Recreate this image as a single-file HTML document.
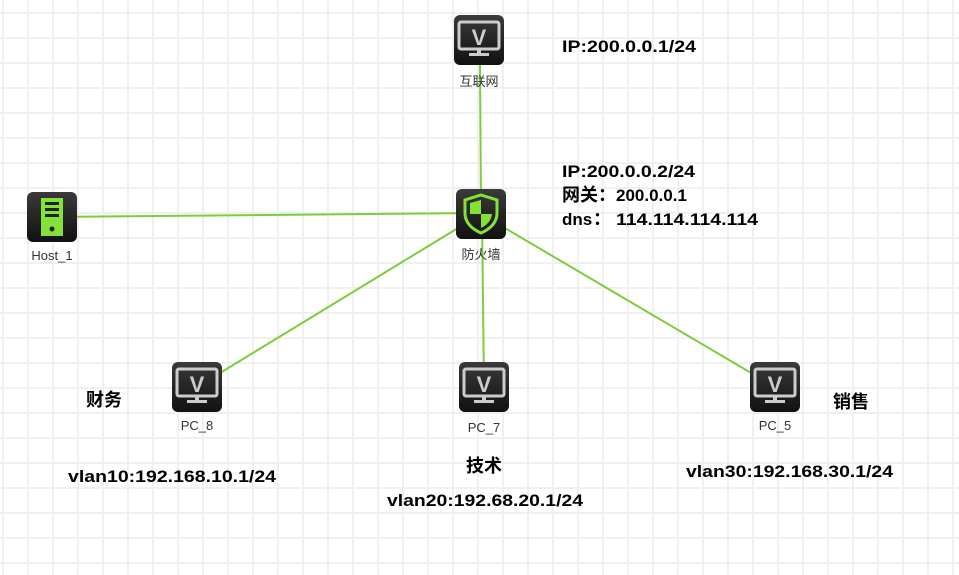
<!DOCTYPE html>
<html><head><meta charset="utf-8"><style>
html,body{margin:0;padding:0;background:#fff;}
svg{display:block;}
.t{font-family:"Liberation Sans","Noto Sans CJK SC",sans-serif;font-weight:bold;font-size:17px;fill:#000;}
.c{font-family:"Noto Sans CJK SC",sans-serif;font-weight:bold;font-size:18px;fill:#000;}
.l{font-family:"Liberation Sans","Noto Sans CJK SC",sans-serif;font-size:13px;fill:#333;text-anchor:middle;}
</style></head><body>
<svg width="959" height="575" viewBox="0 0 959 575" xmlns="http://www.w3.org/2000/svg">
<defs>
<pattern id="g" x="2" y="12" width="25" height="25" patternUnits="userSpaceOnUse">
<path d="M0 1H25M1 0V25" stroke="#f0f0f0" stroke-width="2" fill="none"/>
</pattern>
<linearGradient id="bg" x1="0" y1="0" x2="0" y2="1"><stop offset="0" stop-color="#3a3a3a"/><stop offset="1" stop-color="#111"/></linearGradient>
<g id="pc">
<rect x="0" y="0" width="50" height="50" rx="6" fill="url(#bg)"/>
<rect x="5" y="7" width="40" height="27" rx="2" fill="none" stroke="#ccc" stroke-width="3"/>
<text x="25" y="30" text-anchor="middle" font-family="Liberation Sans" font-weight="bold" font-size="22" fill="#ccc">V</text>
<rect x="23" y="34" width="4" height="4" fill="#ccc"/>
<rect x="15" y="38" width="20" height="3" fill="#ccc"/>
</g>
</defs>
<rect width="959" height="575" fill="url(#g)"/>
<g stroke="#7ccd3c" stroke-width="2" fill="none">
<line x1="480" y1="64" x2="481" y2="214"/>
<line x1="52" y1="217" x2="481" y2="213"/>
<line x1="481" y1="214" x2="197" y2="387"/>
<line x1="482" y1="214" x2="484" y2="387"/>
<line x1="481" y1="214" x2="775" y2="387"/>
</g>
<use href="#pc" x="454" y="15"/>
<use href="#pc" x="172" y="362"/>
<use href="#pc" x="459" y="362"/>
<use href="#pc" x="750" y="362"/>
<g transform="translate(27,192)">
<rect width="50" height="50" rx="6" fill="url(#bg)"/>
<rect x="14" y="6" width="22" height="38" fill="#84e236"/>
<rect x="18" y="10" width="14" height="3" fill="#222"/>
<rect x="18" y="16" width="14" height="3" fill="#222"/>
<rect x="18" y="22" width="14" height="3" fill="#222"/>
<circle cx="25" cy="37" r="2.5" fill="#222"/>
</g>
<g transform="translate(456,189)">
<rect width="50" height="50" rx="6" fill="url(#bg)"/>
<path d="M25 6 L41 11 V24 C41 34 34 40 25 44 C16 40 9 34 9 24 V11 Z" fill="none" stroke="#84e236" stroke-width="3"/>
<path d="M25 11 V25 H14 V14 Z" fill="#84e236"/>
<path d="M25 25 H36 C35 32 31 36 25 39 Z" fill="#84e236"/>
</g>
<text class="l" x="479" y="86">互联网</text>
<text class="l" x="52" y="260">Host_1</text>
<text class="l" x="481" y="259">防火墙</text>
<text class="l" x="197" y="430">PC_8</text>
<text class="l" x="484" y="432">PC_7</text>
<text class="l" x="775" y="430">PC_5</text>
<text class="t" x="562" y="52" textLength="134" lengthAdjust="spacingAndGlyphs">IP:200.0.0.1/24</text>
<text class="t" x="562" y="177" textLength="133" lengthAdjust="spacingAndGlyphs">IP:200.0.0.2/24</text>
<text class="t" x="562" y="201"><tspan class="c" font-weight="normal">网关：</tspan>200.0.0.1</text>
<text class="t" x="562" y="225">dns</text>
<text class="c" x="593" y="225" font-weight="normal">：</text>
<text class="t" x="616" y="225" textLength="142" lengthAdjust="spacingAndGlyphs">114.114.114.114</text>
<text class="c" x="86" y="406" font-weight="normal">财务</text>
<text class="t" x="68" y="482" textLength="208" lengthAdjust="spacingAndGlyphs">vlan10:192.168.10.1/24</text>
<text class="c" x="466" y="472" font-weight="normal">技术</text>
<text class="t" x="387" y="506" textLength="196" lengthAdjust="spacingAndGlyphs">vlan20:192.68.20.1/24</text>
<text class="c" x="833" y="408" font-weight="normal">销售</text>
<text class="t" x="686" y="477" textLength="207" lengthAdjust="spacingAndGlyphs">vlan30:192.168.30.1/24</text>
</svg>
</body></html>
